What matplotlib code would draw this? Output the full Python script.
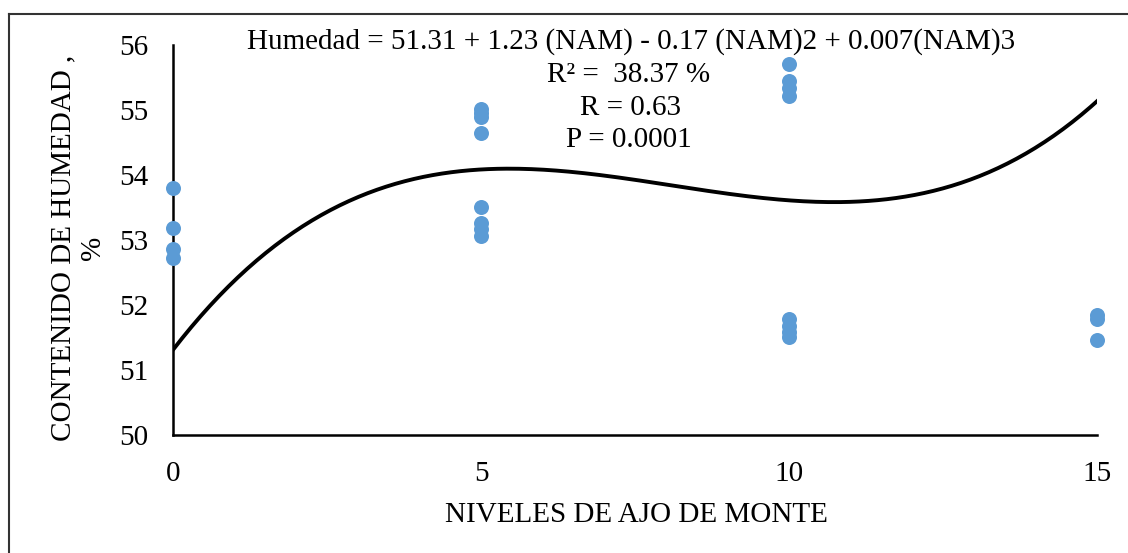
import numpy as np
import matplotlib
matplotlib.use("Agg")
import matplotlib.pyplot as plt
from matplotlib.lines import Line2D

plt.rcParams['font.family'] = ['Liberation Serif', 'DejaVu Serif']

# Moisture content (%) measured at each garlic level
nivel_0 = [53.80, 53.18, 52.86, 52.72]
nivel_5 = [55.02, 54.95, 54.89, 54.65, 53.50, 53.26, 53.17, 53.06]
nivel_10 = [55.70, 55.44, 55.34, 55.22, 51.78, 51.68, 51.58, 51.50]
nivel_15 = [51.85, 51.78, 51.46]
niveles = [0, 5, 10, 15]

# Cubic trend: Humedad = b0 + b1*NAM + b2*NAM^2 + b3*NAM^3
coef = [51.31, 1.23, -0.17, 0.007]

x_ticks = [0, 5, 10, 15]
y_ticks = [50, 51, 52, 53, 54, 55, 56]

FS = 21

fig = plt.figure(figsize=(11.28, 5.53), dpi=100)
ax = fig.add_axes([173 / 1128, (553 - 435) / 553, (1097 - 173) / 1128, 390 / 553])

grupos = [nivel_0, nivel_5, nivel_10, nivel_15]
xs = np.concatenate([[n] * len(g) for n, g in zip(niveles, grupos)])
ys = np.concatenate(grupos)
ax.plot(xs, ys, 'o', color='#5B9BD5', markersize=10.8, markeredgewidth=0,
        zorder=3, clip_on=False)

xc = np.linspace(0, 15, 300)
yc = coef[0] + coef[1] * xc + coef[2] * xc ** 2 + coef[3] * xc ** 3
ax.plot(xc, yc, color='black', linewidth=2.8, zorder=2)

ax.set_xlim(0, 15)
ax.set_ylim(50, 56)
ax.set_xticks(x_ticks)
ax.set_yticks(y_ticks)
ax.tick_params(length=0, labelsize=FS)
ax.tick_params(axis='x', pad=19)
ax.tick_params(axis='y', pad=18)
for s in ['top', 'right']:
    ax.spines[s].set_visible(False)
for s in ['left', 'bottom']:
    ax.spines[s].set_linewidth(1.8)
    ax.spines[s].set_color('black')

fig.text(636 / 1128, 1 - 515 / 553, 'NIVELES DE AJO DE MONTE', ha='center', va='center', fontsize=FS)
fig.text(78 / 1128, 1 - 248 / 553, 'CONTENIDO DE HUMEDAD ,\n%', ha='center', va='center',
         rotation=90, fontsize=FS, linespacing=1.2, multialignment='center')

ax.text(631 / 1128, 1 - 42 / 553,
        'Humedad = 51.31 + 1.23 (NAM) - 0.17 (NAM)2 + 0.007(NAM)3',
        transform=fig.transFigure, ha='center', va='center', fontsize=FS)
ax.text(629 / 1128, 1 - 75 / 553, 'R² =  38.37 %', transform=fig.transFigure,
        ha='center', va='center', fontsize=FS)
ax.text(631 / 1128, 1 - 108 / 553, 'R = 0.63', transform=fig.transFigure,
        ha='center', va='center', fontsize=FS)
ax.text(629 / 1128, 1 - 140 / 553, 'P = 0.0001', transform=fig.transFigure,
        ha='center', va='center', fontsize=FS)

# Chart frame (left and top edges)
fig.add_artist(Line2D([9 / 1128, 9 / 1128], [0, 1 - 14 / 553], transform=fig.transFigure,
                      color='#333333', linewidth=1.5))
fig.add_artist(Line2D([9 / 1128, 1], [1 - 14 / 553, 1 - 14 / 553], transform=fig.transFigure,
                      color='#333333', linewidth=1.5))

fig.savefig('out.png', dpi=100, facecolor='white')
